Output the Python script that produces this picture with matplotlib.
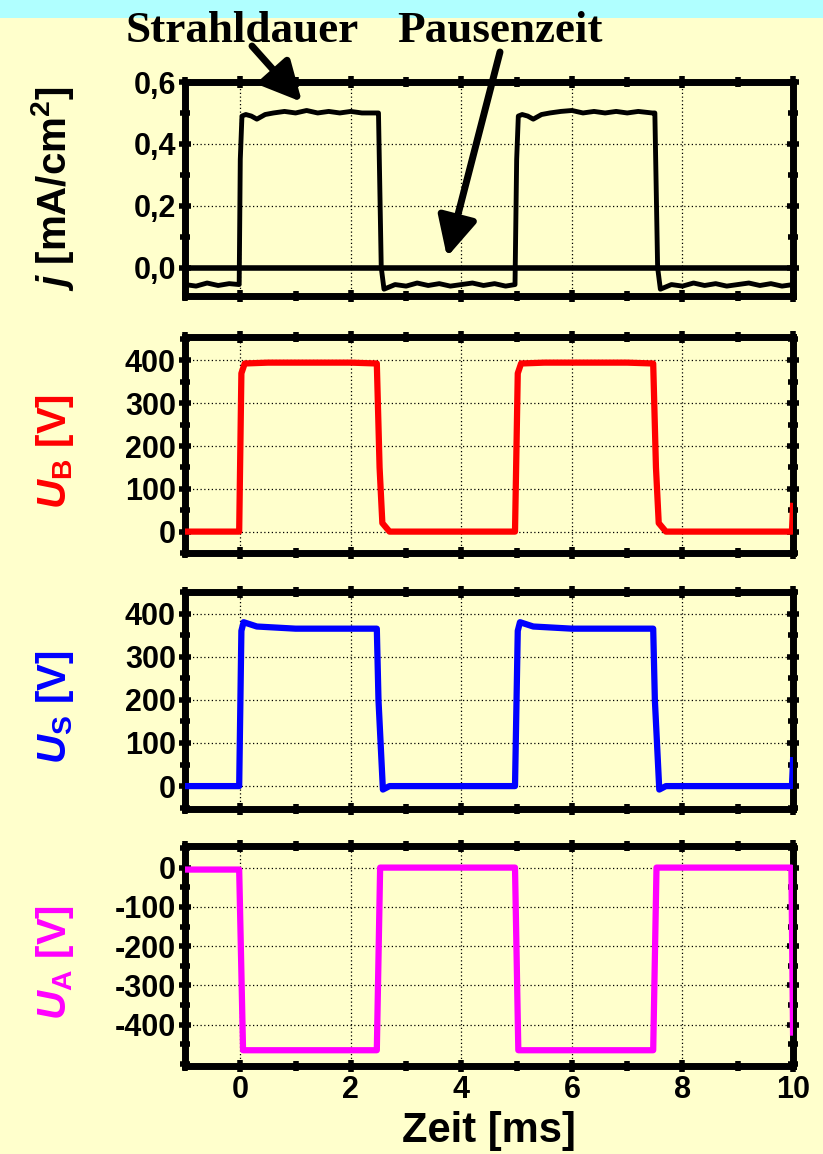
import matplotlib
matplotlib.use("Agg")
import matplotlib.pyplot as plt
from matplotlib.patches import FancyArrowPatch
from matplotlib.ticker import MultipleLocator

plt.rcParams['font.family'] = ['Liberation Sans', 'DejaVu Sans']
plt.rcParams['font.weight'] = 'bold'
plt.rcParams['axes.unicode_minus'] = False
plt.rcParams['mathtext.fontset'] = 'custom'
plt.rcParams['mathtext.rm'] = 'Liberation Sans:bold'
plt.rcParams['mathtext.bf'] = 'Liberation Sans:bold'
plt.rcParams['mathtext.it'] = 'Liberation Sans:bold:italic'

BG = '#FFFFCC'

# ---- data ----
# current density j [mA/cm2]
j_t = [-1.0, -0.8, -0.6, -0.4, -0.2, -0.02, 0.0, 0.03, 0.1, 0.2, 0.3, 0.45, 0.6, 0.8, 1.0,
       1.2, 1.4, 1.6, 1.8, 2.0, 2.2, 2.45, 2.5, 2.55, 2.6, 2.8, 3.0, 3.2, 3.4, 3.6, 3.8,
       4.0, 4.2, 4.4, 4.6, 4.8, 4.97, 5.0, 5.03, 5.1, 5.2, 5.3, 5.45, 5.6, 5.8, 6.0, 6.2,
       6.4, 6.6, 6.8, 7.0, 7.2, 7.45, 7.5, 7.55, 7.6, 7.8, 8.0, 8.2, 8.4, 8.6, 8.8, 9.0,
       9.2, 9.4, 9.6, 9.8, 10.0]
j_v = [-0.055, -0.06, -0.05, -0.058, -0.052, -0.055, 0.35, 0.49, 0.495, 0.49, 0.48, 0.495,
       0.50, 0.505, 0.50, 0.508, 0.50, 0.505, 0.50, 0.505, 0.50, 0.50, 0.50, 0.0, -0.07,
       -0.055, -0.06, -0.05, -0.058, -0.052, -0.06, -0.055, -0.05, -0.058, -0.052, -0.06,
       -0.055, 0.35, 0.49, 0.495, 0.49, 0.48, 0.495, 0.50, 0.505, 0.508, 0.50, 0.505, 0.50,
       0.505, 0.50, 0.505, 0.50, 0.50, 0.0, -0.07, -0.055, -0.06, -0.05, -0.058, -0.052,
       -0.06, -0.055, -0.05, -0.058, -0.052, -0.06, -0.055]

# beam voltage U_B [V]
ub_t = [-1.0, -0.02, 0.02, 0.08, 0.5, 2.0, 2.47, 2.52, 2.57, 2.7, 4.97, 5.02, 5.08, 5.5,
        7.0, 7.47, 7.52, 7.57, 7.7, 9.98, 10.0]
ub_v = [0, 0, 370, 393, 395, 395, 393, 150, 20, 0, 0, 370, 393, 395, 395, 393, 150, 20, 0, 0, 60]

# screen voltage U_S [V]
us_t = [-1.0, -0.02, 0.02, 0.06, 0.3, 1.0, 2.47, 2.5, 2.58, 2.7, 4.97, 5.02, 5.06, 5.3,
        6.0, 7.47, 7.5, 7.58, 7.7, 9.98, 10.0]
us_v = [0, 0, 360, 380, 370, 365, 365, 200, -8, 0, 0, 360, 380, 370, 365, 365, 200, -8, 0, 0, 60]

# accel voltage U_A [V]
ua_t = [-1.0, -0.02, 0.05, 2.0, 2.47, 2.53, 4.97, 5.03, 7.47, 7.53, 9.97, 10.0]
ua_v = [-5, -5, -465, -465, -465, 0, 0, -465, -465, 0, 0, -420]

x_ticks = [0, 2, 4, 6, 8, 10]
j_ticks = [0.0, 0.2, 0.4, 0.6]
j_ticklabels = ['0,0', '0,2', '0,4', '0,6']
ub_ticks = [0, 100, 200, 300, 400]
us_ticks = [0, 100, 200, 300, 400]
ua_ticks = [0, -100, -200, -300, -400]

panels = [
    (j_t, j_v, 'black', 3.5, (-0.092, 0.6), j_ticks, j_ticklabels, 0.1,
     r'$j$ [mA/cm$^2$]', 'black', 0.5, [0.7435, 0.1854]),
    (ub_t, ub_v, '#FF0000', 4.5, (-50, 455), ub_ticks, None, 50,
     r'$U_\mathrm{B}$ [V]', '#FF0000', 0.47, [0.5208, 0.1872]),
    (us_t, us_v, '#0000FF', 4.5, (-53, 450), us_ticks, None, 50,
     r'$U_\mathrm{S}$ [V]', '#0000FF', 0.47, [0.2990, 0.1880]),
    (ua_t, ua_v, '#FF00FF', 4.5, (-505, 55), ua_ticks, None, 50,
     r'$U_\mathrm{A}$ [V]', '#FF00FF', 0.47, [0.0763, 0.1906]),
]

fig = plt.figure(figsize=(8.23, 11.54), dpi=100, facecolor=BG)
# cyan strip at the top
fig.patches.append(plt.Rectangle((0, 1 - 18 / 1154), 1, 18 / 1154, transform=fig.transFigure,
                                 facecolor='#B0FFFF', edgecolor='none', zorder=0))

for i, (t, v, col, lw, ylim, yt, ytl, ymin, ylab, lcol, ly, (b, h)) in enumerate(panels):
    ax = fig.add_axes([0.2248, b, 0.7388, h])
    ax.set_facecolor(BG)
    ax.plot(t, v, color=col, lw=lw, zorder=3)
    ax.set_xlim(-1, 10)
    ax.set_ylim(*ylim)
    ax.set_xticks(x_ticks)
    ax.xaxis.set_minor_locator(MultipleLocator(1))
    ax.set_yticks(yt)
    if ytl is not None:
        ax.set_yticklabels(ytl)
    ax.yaxis.set_minor_locator(MultipleLocator(ymin))
    ax.grid(True, which='major', color='black', ls=(0, (1, 2)), lw=0.9)
    for s in ax.spines.values():
        s.set_linewidth(5)
    ax.tick_params(which='both', direction='inout', top=True, right=True,
                   width=4, labelsize=22, pad=2)
    ax.tick_params(which='major', length=9)
    ax.tick_params(which='minor', length=7)
    ax.set_ylabel(ylab, color=lcol, fontsize=29, fontweight='bold')
    ax.yaxis.set_label_coords(-0.18, ly)
    if i < 3:
        ax.tick_params(labelbottom=False)
    else:
        ax.set_xlabel('Zeit [ms]', fontsize=30, fontweight='bold', labelpad=4)
    if i == 0:
        ax.axhline(0, color='black', lw=4, zorder=2)

# annotations at the top
for label, xc in [('Strahldauer', 242), ('Pausenzeit', 500)]:
    fig.text(xc / 823, 1 - 42 / 1154, label, family='Liberation Serif', fontweight='bold',
             fontsize=32.5, ha='center', va='baseline')

arrow = dict(arrowstyle='-|>,head_length=0.6,head_width=0.3', lw=5, color='black',
             mutation_scale=40, shrinkA=0, shrinkB=0, transform=fig.transFigure)
fig.add_artist(FancyArrowPatch((252 / 823, 1 - 46 / 1154), (302 / 823, 1 - 102 / 1154), **arrow))
fig.add_artist(FancyArrowPatch((500 / 823, 1 - 52 / 1154), (447 / 823, 1 - 257 / 1154), **arrow))

fig.savefig('out.png', dpi=100, facecolor=BG)
